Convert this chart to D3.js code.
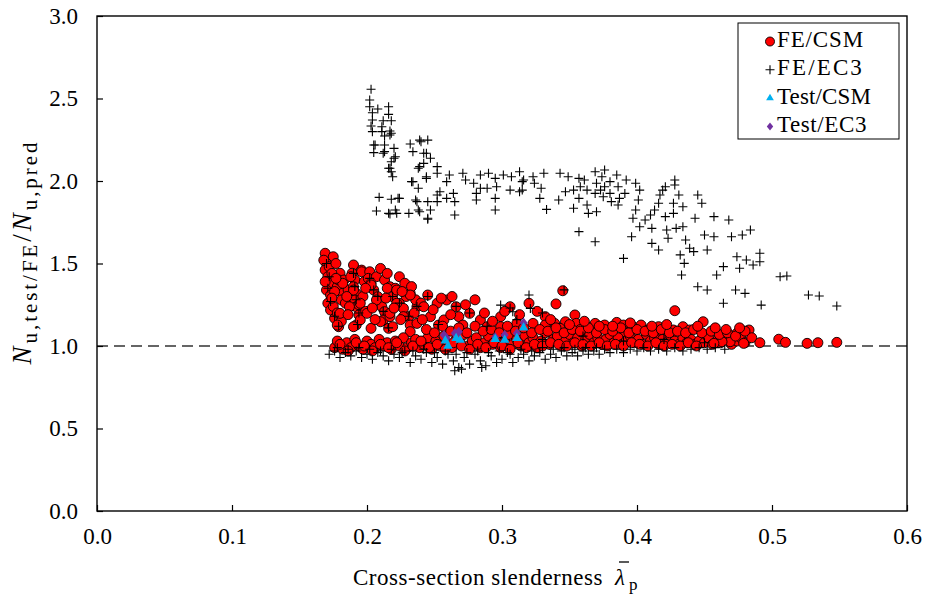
<!DOCTYPE html>
<html>
<head>
<meta charset="utf-8">
<script src="https://cdn.jsdelivr.net/npm/d3@7"></script>
<style>
  body { margin: 0; background: #fff; }
  svg { display: block; font-family: "Liberation Serif", "DejaVu Serif", serif; }
</style>
</head>
<body>
<svg id="chart" width="925" height="599"></svg>
<script>
// Axis ticks
const xTicks = [0, 0.1, 0.2, 0.3, 0.4, 0.5, 0.6];
const yTicks = [0, 0.5, 1.0, 1.5, 2.0, 2.5, 3.0];

// FE results compared with CSM predictions: [slenderness, Nu,FE / Nu,pred]
const feCsm = [
  [0.169,1.562],[0.175,1.541],[0.170,1.501],[0.169,1.461],[0.171,1.420],[0.173,1.380],[0.170,1.339],[0.173,1.309],
  [0.171,1.259],[0.173,1.218],[0.176,1.168],[0.179,1.117],[0.178,1.359],[0.180,1.441],[0.179,1.400],[0.182,1.319],
  [0.181,1.279],[0.168,1.520],[0.172,1.480],[0.177,1.500],[0.174,1.440],[0.176,1.330],[0.169,1.390],[0.175,1.240],
  [0.178,1.200],[0.184,1.260],[0.186,1.340],[0.183,1.400],[0.181,1.150],
  [0.190,1.491],[0.189,1.441],[0.191,1.400],[0.190,1.359],[0.192,1.319],[0.191,1.279],[0.192,1.238],[0.194,1.188],
  [0.192,1.127],[0.195,1.158],[0.196,1.460],[0.197,1.300],[0.198,1.390],[0.194,1.250],[0.199,1.210],
  [0.196,1.450],[0.202,1.450],[0.201,1.410],[0.207,1.420],[0.203,1.380],[0.205,1.339],[0.208,1.299],[0.211,1.238],
  [0.213,1.208],[0.212,1.158],[0.216,1.107],[0.213,1.400],[0.217,1.359],[0.221,1.350],[0.219,1.299],[0.224,1.259],
  [0.227,1.228],[0.232,1.319],[0.237,1.238],[0.231,1.178],[0.217,1.178],[0.232,1.127],[0.210,1.470],[0.215,1.440],
  [0.224,1.420],[0.228,1.380],[0.233,1.360],[0.229,1.300],[0.236,1.280],[0.240,1.260],
  [0.182,1.380],[0.190,1.339],[0.203,1.370],[0.215,1.350],[0.222,1.339],[0.207,1.279],[0.195,1.259],[0.187,1.238],
  [0.180,1.198],[0.217,1.198],[0.227,1.178],[0.232,1.087],[0.219,1.117],[0.203,1.107],[0.200,1.198],[0.222,1.259],
  [0.210,1.147],[0.190,1.117],[0.178,1.127],[0.237,1.137],[0.232,1.309],[0.245,1.309],[0.242,1.238],[0.252,1.259],
  [0.259,1.279],[0.247,1.178],[0.253,1.127],[0.257,1.158],[0.266,1.238],[0.268,1.178],[0.276,1.198],[0.284,1.158],
  [0.271,1.127],[0.289,1.117],[0.299,1.178],[0.306,1.238],[0.320,1.259],[0.311,1.137],[0.323,1.137],[0.299,1.117],
  [0.340,1.255],[0.345,1.335],[0.332,1.178],[0.354,1.188],[0.355,1.137],[0.347,1.147],[0.339,1.137],[0.332,1.127],
  [0.369,1.137],[0.363,1.117],[0.376,1.127],[0.385,1.143],[0.390,1.127],[0.397,1.117],[0.403,1.127],[0.408,1.097],
  [0.416,1.117],[0.428,1.214],[0.434,1.117],[0.449,1.147],[0.427,1.097],[0.483,1.097],[0.474,1.077],[0.449,1.067],
  [0.343,1.107],[0.350,1.080],[0.358,1.100],[0.365,1.080],[0.380,1.097],[0.391,1.085],[0.417,1.085],[0.439,1.097],
  [0.176,0.990],[0.178,1.030],[0.182,0.980],[0.185,1.020],[0.188,0.990],[0.191,1.040],[0.194,1.000],[0.197,0.980],
  [0.200,1.030],[0.203,1.010],[0.206,0.990],[0.209,1.040],[0.212,1.000],[0.215,1.020],[0.218,0.980],[0.221,1.030],
  [0.224,1.000],[0.227,1.050],[0.230,0.990],[0.233,1.020],[0.236,1.040],[0.239,0.990],[0.242,1.010],[0.245,1.050],
  [0.248,0.980],[0.251,1.030],[0.254,1.000],[0.257,1.060],[0.260,1.010],[0.263,0.990],[0.266,1.040],[0.269,1.020],
  [0.272,1.070],[0.275,1.000],[0.278,1.030],[0.281,1.050],[0.284,0.990],[0.287,1.020],[0.290,1.060],[0.293,1.010],
  [0.296,1.040],[0.299,0.990],[0.302,1.030],[0.305,1.070],[0.308,1.010],[0.311,1.040],[0.314,1.000],[0.317,1.060],
  [0.320,1.020],[0.323,1.050],[0.326,0.990],[0.329,1.030],[0.332,1.080],[0.335,1.010],[0.338,1.040],[0.341,1.060],
  [0.344,1.000],[0.347,1.030],[0.350,1.070],[0.353,1.020],[0.356,1.050],[0.359,1.000],[0.362,1.040],[0.365,1.070],
  [0.368,1.020],[0.371,1.050],[0.374,1.010],[0.377,1.040],[0.380,1.070],[0.383,1.020],[0.386,1.050],[0.389,1.010],
  [0.392,1.030],[0.395,1.060],[0.398,1.020],[0.401,1.040],[0.404,1.010],[0.407,1.070],[0.410,1.030],[0.413,1.050],
  [0.416,1.010],[0.419,1.040],[0.422,1.020],[0.425,1.060],[0.428,1.030],[0.431,1.010],[0.434,1.050],[0.437,1.020],
  [0.440,1.040],[0.443,1.010],[0.446,1.030],[0.450,1.020],[0.453,1.050],[0.456,1.010],[0.459,1.030],[0.462,1.020],
  [0.466,1.040],[0.470,1.010],[0.474,1.030],[0.477,1.050],[0.480,1.020],[0.485,1.050],[0.479,1.016],[0.469,1.026],
  [0.463,1.026],[0.457,1.016],[0.491,1.020],[0.505,1.041],[0.510,1.022],[0.526,1.016],[0.534,1.020],[0.548,1.022],
  [0.180,1.010],[0.186,0.970],[0.192,1.020],[0.198,1.000],[0.204,0.970],[0.210,1.010],[0.216,0.990],[0.222,1.020],
  [0.228,0.970],[0.234,1.000],[0.240,1.030],[0.246,0.990],[0.252,1.010],[0.258,0.980],[0.264,1.020],[0.270,1.000],
  [0.276,0.980],[0.282,1.010],[0.288,0.990],[0.294,1.020],[0.300,1.000],[0.306,0.980],[0.312,1.020],[0.318,0.990],
  [0.324,1.010],[0.330,1.000],[0.336,1.020],[0.342,1.010],[0.348,1.000],[0.354,1.020],[0.360,1.010],[0.366,1.000],
  [0.372,1.020],[0.378,1.000],[0.384,1.010],[0.390,1.000],[0.396,1.020],[0.402,1.010],[0.408,1.000],[0.414,1.020],
  [0.420,1.000],[0.426,1.010],[0.432,1.000],[0.438,1.020],[0.444,1.000],
  [0.244,1.100],[0.250,1.080],[0.256,1.120],[0.262,1.090],[0.268,1.110],[0.274,1.080],[0.280,1.120],[0.286,1.090],
  [0.292,1.100],[0.298,1.080],[0.304,1.120],[0.310,1.090],[0.316,1.110],[0.322,1.080],[0.328,1.100],[0.334,1.090],
  [0.340,1.110],[0.346,1.080],[0.352,1.100],[0.358,1.090],[0.364,1.110],[0.370,1.080],[0.376,1.100],[0.382,1.090],
  [0.388,1.110],[0.394,1.080],[0.400,1.100],[0.406,1.090],[0.412,1.080],[0.418,1.100],[0.424,1.080],[0.430,1.090],
  [0.436,1.080],[0.442,1.100],[0.448,1.080],[0.455,1.090],[0.461,1.070],[0.467,1.080],[0.473,1.060],[0.480,1.090],
  [0.174,1.290],[0.177,1.410],[0.185,1.300],[0.188,1.420],[0.186,1.190],[0.199,1.350],[0.204,1.230],[0.206,1.160],
  [0.214,1.290],[0.220,1.230],[0.225,1.160],[0.226,1.330],[0.235,1.200],[0.241,1.160],[0.249,1.220],[0.255,1.290],
  [0.262,1.190],[0.263,1.300],[0.273,1.250],[0.280,1.280],[0.287,1.200],[0.293,1.150],[0.302,1.210],[0.313,1.190],
  [0.326,1.210],[0.336,1.160],[0.350,1.130],[0.361,1.150],[0.372,1.120],[0.382,1.120],[0.395,1.140],[0.411,1.120],
  [0.422,1.130],[0.445,1.120],[0.458,1.110],[0.466,1.100],[0.476,1.110]
];

// FE results compared with EC3 predictions
const feEc3 = [
  [0.203,2.556],[0.202,2.491],[0.202,2.450],[0.208,2.436],[0.216,2.450],[0.204,2.414],[0.216,2.404],[0.204,2.370],
  [0.212,2.365],[0.218,2.365],[0.203,2.333],[0.211,2.329],[0.204,2.299],[0.217,2.303],[0.213,2.273],[0.218,2.289],
  [0.205,2.218],[0.213,2.218],[0.205,2.172],[0.213,2.178],[0.220,2.198],[0.220,2.138],[0.217,2.077],[0.219,2.026],
  [0.209,1.901],[0.218,1.889],[0.223,1.895],[0.207,1.818],[0.217,1.800],[0.222,1.804],[0.231,1.804],[0.232,2.224],
  [0.239,2.248],[0.245,2.248],[0.234,2.178],[0.242,2.168],[0.247,2.138],[0.239,2.087],[0.234,1.996],[0.238,1.956],
  [0.244,2.026],[0.252,2.087],[0.237,1.875],[0.245,1.875],[0.252,1.915],[0.239,1.814],[0.245,1.768],
  [0.211,2.299],[0.217,2.279],[0.206,2.218],[0.212,2.168],[0.221,2.147],[0.218,2.117],[0.216,2.077],[0.218,2.056],
  [0.240,2.238],[0.244,2.168],[0.242,2.107],[0.238,2.077],[0.252,2.047],[0.244,2.016],[0.233,1.996],[0.261,2.036],
  [0.259,1.996],[0.271,2.047],[0.273,2.006],[0.279,1.986],[0.284,2.036],[0.290,2.047],[0.284,1.956],[0.281,1.925],
  [0.289,1.956],[0.295,2.016],[0.296,1.965],[0.301,2.036],[0.307,2.026],[0.313,2.056],[0.315,1.996],[0.306,1.945],
  [0.313,1.935],[0.295,1.895],[0.281,1.885],[0.295,1.824],[0.254,1.935],[0.264,1.925],[0.224,1.895],[0.236,1.885],
  [0.252,1.875],[0.259,1.895],[0.265,1.875],[0.216,1.804],[0.221,1.824],[0.238,1.824],[0.247,1.824],[0.245,1.774],
  [0.265,1.794],
  [0.316,2.006],[0.315,1.945],[0.323,2.026],[0.324,1.986],[0.331,2.047],[0.329,1.956],[0.328,1.895],[0.333,1.828],
  [0.343,2.047],[0.349,2.026],[0.342,1.885],[0.347,1.935],[0.353,1.945],[0.357,2.016],[0.358,1.965],[0.357,1.895],
  [0.353,1.835],[0.361,2.006],[0.363,1.945],[0.363,1.855],[0.364,1.804],[0.369,2.056],[0.370,1.986],[0.369,1.925],
  [0.370,1.814],[0.376,2.067],[0.374,2.026],[0.373,1.945],[0.376,1.965],[0.375,1.905],[0.380,1.996],[0.380,1.925],
  [0.381,1.875],[0.385,2.036],[0.386,1.965],[0.387,1.895],[0.386,1.855],[0.392,2.006],[0.391,1.925],[0.399,1.986],
  [0.402,1.945],[0.401,1.885],[0.399,1.824],[0.397,1.774],[0.402,1.723],[0.396,1.662],[0.406,1.764],[0.410,1.794],
  [0.411,1.713],[0.413,1.824],[0.416,1.865],[0.417,1.915],[0.419,1.945],[0.421,1.965],[0.428,2.006],[0.428,1.976],
  [0.431,1.915],[0.427,1.865],[0.427,1.804],[0.422,1.703],[0.421,1.784],[0.411,1.622],[0.416,1.582],[0.429,1.713],
  [0.434,1.723],[0.423,1.653],[0.436,1.642],[0.439,1.592],[0.442,1.572],[0.432,1.552],[0.435,1.501],[0.433,1.430],
  [0.434,1.844],[0.445,1.915],[0.448,1.865],[0.443,1.774],[0.457,1.784],[0.468,1.764],[0.450,1.673],[0.457,1.662],
  [0.452,1.582],[0.470,1.662],[0.478,1.673],[0.484,1.703],[0.474,1.541],[0.481,1.521],[0.476,1.471],[0.486,1.491],
  [0.491,1.562],[0.491,1.511],[0.464,1.481],[0.459,1.430],[0.445,1.359],[0.452,1.339],[0.473,1.339],[0.480,1.319],
  [0.464,1.259],[0.492,1.248],[0.506,1.420],[0.511,1.424],[0.390,1.531],[0.369,1.632],[0.357,1.693],
  [0.527,1.309],[0.535,1.303],[0.548,1.242],
  [0.170,1.500],[0.172,1.420],[0.171,1.350],[0.173,1.270],[0.176,1.180],[0.179,1.120],[0.190,1.440],[0.191,1.360],
  [0.192,1.280],[0.194,1.200],[0.193,1.130],[0.202,1.410],[0.205,1.340],[0.208,1.300],[0.212,1.210],[0.216,1.110],
  [0.219,1.300],[0.224,1.260],[0.231,1.180],[0.237,1.240],[0.245,1.300],[0.253,1.130],[0.266,1.240],[0.276,1.200],
  [0.289,1.120],[0.306,1.230],[0.320,1.309],[0.321,1.228],[0.299,1.248],[0.308,1.208],[0.346,1.340],[0.311,1.160],
  [0.330,1.200],[0.300,1.050],[0.330,1.040],[0.360,1.060],[0.390,1.030],[0.420,1.040],[0.450,1.020],
  [0.172,0.950],[0.176,0.970],[0.180,0.930],[0.184,0.960],[0.188,0.940],[0.192,0.970],[0.196,0.930],[0.200,0.950],
  [0.204,0.920],[0.208,0.960],[0.212,0.940],[0.216,0.910],[0.220,0.950],[0.224,0.930],[0.228,0.970],[0.232,0.900],
  [0.236,0.940],[0.240,0.920],[0.244,0.960],[0.248,0.900],[0.252,0.930],[0.256,0.890],[0.260,0.950],[0.264,0.910],
  [0.268,0.870],[0.272,0.930],[0.276,0.890],[0.280,0.950],[0.284,0.910],[0.288,0.880],[0.292,0.940],[0.296,0.900],
  [0.300,0.920],[0.304,0.960],[0.308,0.900],[0.312,0.930],[0.316,0.950],[0.320,0.910],[0.324,0.940],[0.328,0.960],
  [0.332,0.920],[0.336,0.950],[0.340,0.930],[0.344,0.970],[0.348,0.940],[0.352,0.960],[0.356,0.940],[0.360,0.970],
  [0.364,0.950],[0.368,0.970],[0.372,0.950],[0.376,0.980],[0.380,0.960],[0.385,0.980],[0.390,0.960],[0.395,0.980],
  [0.400,0.970],[0.405,0.990],[0.410,0.970],[0.416,0.980],[0.422,0.970],[0.428,0.990],[0.434,0.970],[0.440,0.980],
  [0.446,0.990],[0.452,0.980],[0.458,0.990],[0.465,0.980],
  [0.178,0.990],[0.186,0.980],[0.194,0.990],[0.202,0.980],[0.210,0.970],[0.218,0.980],[0.226,0.960],[0.234,0.970],
  [0.242,0.980],[0.250,0.960],[0.258,0.970],[0.266,0.950],[0.274,0.960],[0.282,0.970],[0.290,0.960],[0.298,0.970],
  [0.306,0.950],[0.314,0.980],[0.322,0.970],[0.330,0.990],[0.338,0.980],[0.346,0.990],[0.354,0.980],[0.362,0.990],
  [0.370,0.990],[0.265,0.850],[0.270,0.860],[0.285,0.870]
];

// Test results
const testCsm = [
  [0.258,1.032],[0.260,1.000],[0.266,1.047],[0.269,1.036],[0.295,1.041],[0.302,1.036],[0.311,1.047],[0.316,1.111]
];
const testEc3 = [
  [0.257,1.067],[0.259,1.047],[0.265,1.077],[0.268,1.087],[0.295,1.053],[0.302,1.067],[0.311,1.077],[0.316,1.141]
];

const legendLabels = ["FE/CSM", "FE/EC3", "Test/CSM", "Test/EC3"];

const FONT = '"Liberation Serif", "DejaVu Serif", serif';
const svg = d3.select("#chart");
const x = d3.scaleLinear().domain([0, 0.6]).range([97, 907]);
const y = d3.scaleLinear().domain([0, 3]).range([511, 16]);

const RED = "#ff0000", BLUE = "#00b0f0", PURPLE = "#7030a0";
const crossPath = "M-4.5,0H4.5M0,-4.5V4.5";
const triPath = d3.symbol(d3.symbolTriangle, 40)();
const diamondPath = "M0,-5L4,0L0,5L-4,0Z";

// Spread a text element's glyphs so that it covers a given width
function fitWidth(sel, width) {
  const node = sel.node();
  const n = node.getNumberOfChars();
  const len = node.getComputedTextLength();
  sel.attr("letter-spacing", ((width - len) / n).toFixed(2));
}

// Dashed reference line at ratio 1.0
svg.append("line")
  .attr("x1", x(0)).attr("x2", x(0.6))
  .attr("y1", y(1)).attr("y2", y(1))
  .attr("stroke", "#333").attr("stroke-width", 1.5)
  .attr("stroke-dasharray", "11,6");

// Data markers
const marks = svg.append("g");
marks.append("g").selectAll("circle").data(feCsm).join("circle")
  .attr("cx", d => x(d[0])).attr("cy", d => y(d[1])).attr("r", 5)
  .attr("fill", RED).attr("stroke", "#000").attr("stroke-width", 0.9);
marks.append("g").selectAll("path").data(feEc3).join("path")
  .attr("d", crossPath)
  .attr("transform", d => `translate(${x(d[0])},${y(d[1])})`)
  .attr("fill", "none").attr("stroke", "#000").attr("stroke-width", 1.1);
marks.append("g").selectAll("path").data(testEc3).join("path")
  .attr("d", diamondPath)
  .attr("transform", d => `translate(${x(d[0])},${y(d[1])})`)
  .attr("fill", PURPLE);
marks.append("g").selectAll("path").data(testCsm).join("path")
  .attr("d", triPath)
  .attr("transform", d => `translate(${x(d[0])},${y(d[1])})`)
  .attr("fill", BLUE);

// Axes with inward ticks
const fmt = d3.format(".1f");
const gx = svg.append("g").attr("transform", `translate(0,${y(0)})`)
  .call(d3.axisBottom(x).tickValues(xTicks).tickFormat(fmt)
    .tickSizeInner(-6).tickSizeOuter(0).tickPadding(17));
const gy = svg.append("g").attr("transform", `translate(${x(0)},0)`)
  .call(d3.axisLeft(y).tickValues(yTicks).tickFormat(fmt)
    .tickSizeInner(-6).tickSizeOuter(0).tickPadding(19));
[gx, gy].forEach(g => {
  g.select(".domain").remove();
  g.attr("font-family", FONT).attr("font-size", 23);
  g.selectAll("line").attr("stroke", "#000").attr("stroke-width", 1.2);
  g.selectAll("text").attr("fill", "#000");
});

// Plot frame
svg.append("rect")
  .attr("x", x(0)).attr("y", y(3))
  .attr("width", x(0.6) - x(0)).attr("height", y(0) - y(3))
  .attr("fill", "none").attr("stroke", "#000").attr("stroke-width", 1.4);

// Legend
const lg = svg.append("g").attr("font-family", FONT);
lg.append("rect").attr("x", 738).attr("y", 23).attr("width", 161).attr("height", 116)
  .attr("fill", "#fff").attr("stroke", "#000").attr("stroke-width", 1);
const legendWidths = [87, 87, 94, 90];
legendLabels.forEach((lab, i) => {
  const cy = 41.5 + i * 28.3;
  const m = lg.append("g").attr("transform", `translate(770,${cy})`);
  if (i === 0) m.append("circle").attr("r", 4.5).attr("fill", RED).attr("stroke", "#000").attr("stroke-width", 0.9);
  if (i === 1) m.append("path").attr("d", crossPath).attr("stroke", "#000").attr("stroke-width", 1.1);
  if (i === 2) m.append("path").attr("d", d3.symbol(d3.symbolTriangle, 26)()).attr("fill", BLUE);
  if (i === 3) m.append("path").attr("d", "M0,-4L3.2,0L0,4L-3.2,0Z").attr("fill", PURPLE);
  const t = lg.append("text").attr("x", 777).attr("y", cy + 5.5).attr("font-size", 23).text(lab);
  fitWidth(t, legendWidths[i]);
});

// X-axis title with slenderness symbol
const xt = svg.append("g").attr("font-family", FONT);
const xtMain = xt.append("text").attr("x", 353).attr("y", 585).attr("font-size", 23)
  .text("Cross-section slenderness");
fitWidth(xtMain, 250);
const lamX = 615;
xt.append("text").attr("x", lamX).attr("y", 585).attr("font-size", 23)
  .attr("font-style", "italic").text("λ");
xt.append("line").attr("x1", lamX + 4).attr("x2", lamX + 14).attr("y1", 562).attr("y2", 562)
  .attr("stroke", "#000").attr("stroke-width", 1.3);
xt.append("text").attr("x", lamX + 14).attr("y", 590).attr("font-size", 17).text("p");

// Y-axis title
const yt = svg.append("text").attr("font-family", FONT)
  .attr("transform", "translate(31,252) rotate(-90)")
  .attr("text-anchor", "middle").attr("font-size", 27);
yt.append("tspan").attr("font-style", "italic").text("N");
yt.append("tspan").attr("font-size", 21).attr("dy", 6).text("u,test/FE");
yt.append("tspan").attr("dy", -6).text("/");
yt.append("tspan").attr("font-style", "italic").text("N");
yt.append("tspan").attr("font-size", 21).attr("dy", 6).text("u,pred");
fitWidth(yt, 225);
</script>
</body>
</html>
